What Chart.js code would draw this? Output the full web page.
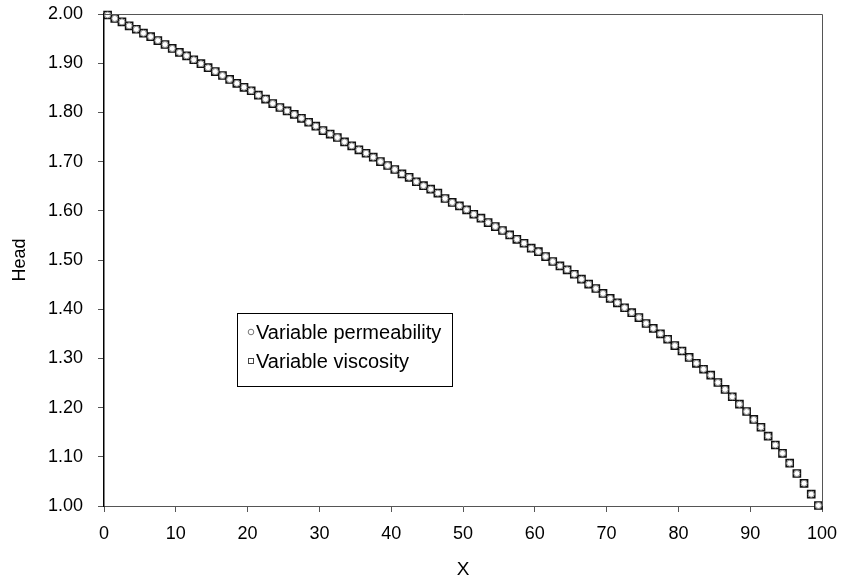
<!DOCTYPE html>
<html>
<head>
<meta charset="utf-8">
<script src="https://cdn.jsdelivr.net/npm/chart.js@4/dist/chart.umd.min.js"></script>
<style>
  body { margin: 0; background: #fff; }
  #wrap { width: 845px; height: 582px; }
</style>
</head>
<body>
<div id="wrap"><canvas id="headChart" width="845" height="582"></canvas></div>
<script>
// cell-centred x positions
var xValues = [
  0.5, 1.5, 2.5, 3.5, 4.5, 5.5, 6.5, 7.5, 8.5, 9.5,
  10.5, 11.5, 12.5, 13.5, 14.5, 15.5, 16.5, 17.5, 18.5, 19.5,
  20.5, 21.5, 22.5, 23.5, 24.5, 25.5, 26.5, 27.5, 28.5, 29.5,
  30.5, 31.5, 32.5, 33.5, 34.5, 35.5, 36.5, 37.5, 38.5, 39.5,
  40.5, 41.5, 42.5, 43.5, 44.5, 45.5, 46.5, 47.5, 48.5, 49.5,
  50.5, 51.5, 52.5, 53.5, 54.5, 55.5, 56.5, 57.5, 58.5, 59.5,
  60.5, 61.5, 62.5, 63.5, 64.5, 65.5, 66.5, 67.5, 68.5, 69.5,
  70.5, 71.5, 72.5, 73.5, 74.5, 75.5, 76.5, 77.5, 78.5, 79.5,
  80.5, 81.5, 82.5, 83.5, 84.5, 85.5, 86.5, 87.5, 88.5, 89.5,
  90.5, 91.5, 92.5, 93.5, 94.5, 95.5, 96.5, 97.5, 98.5, 99.5
];

var headPermeability = [
  1.998, 1.991, 1.984, 1.976, 1.969, 1.961, 1.954, 1.946, 1.938, 1.930,
  1.922, 1.915, 1.907, 1.899, 1.891, 1.883, 1.875, 1.867, 1.859, 1.851,
  1.844, 1.835, 1.827, 1.818, 1.810, 1.803, 1.796, 1.788, 1.780, 1.772,
  1.763, 1.756, 1.749, 1.740, 1.732, 1.724, 1.717, 1.709, 1.700, 1.692,
  1.684, 1.675, 1.668, 1.659, 1.651, 1.644, 1.636, 1.625, 1.617, 1.610,
  1.602, 1.593, 1.585, 1.576, 1.568, 1.560, 1.551, 1.542, 1.534, 1.524,
  1.517, 1.507, 1.497, 1.488, 1.480, 1.471, 1.461, 1.451, 1.442, 1.432,
  1.422, 1.413, 1.403, 1.393, 1.383, 1.371, 1.361, 1.350, 1.339, 1.326,
  1.315, 1.302, 1.290, 1.278, 1.266, 1.251, 1.237, 1.222, 1.207, 1.192,
  1.176, 1.160, 1.142, 1.124, 1.107, 1.087, 1.066, 1.046, 1.024, 1.001
];

var headViscosity = [
  1.998, 1.991, 1.984, 1.976, 1.969, 1.961, 1.954, 1.946, 1.938, 1.930,
  1.922, 1.915, 1.907, 1.899, 1.891, 1.883, 1.875, 1.867, 1.859, 1.851,
  1.844, 1.835, 1.827, 1.818, 1.810, 1.803, 1.796, 1.788, 1.780, 1.772,
  1.763, 1.756, 1.749, 1.740, 1.732, 1.724, 1.717, 1.709, 1.700, 1.692,
  1.684, 1.675, 1.668, 1.659, 1.651, 1.644, 1.636, 1.625, 1.617, 1.610,
  1.602, 1.593, 1.585, 1.576, 1.568, 1.560, 1.551, 1.542, 1.534, 1.524,
  1.517, 1.507, 1.497, 1.488, 1.480, 1.471, 1.461, 1.451, 1.442, 1.432,
  1.422, 1.413, 1.403, 1.393, 1.383, 1.371, 1.361, 1.350, 1.339, 1.326,
  1.315, 1.302, 1.290, 1.278, 1.266, 1.251, 1.237, 1.222, 1.207, 1.192,
  1.176, 1.160, 1.142, 1.124, 1.107, 1.087, 1.066, 1.046, 1.024, 1.001
];

const FONT_FAMILY = '"Liberation Sans", Arial, Helvetica, sans-serif';
const AXIS_GREY = '#555555';

function toPoints(values){
  return values.map((v, i) => ({ x: xValues[i], y: v }));
}

// grey frame round the plot (top + right sides)
const framePlugin = {
  id: 'frame',
  afterDatasetsDraw(chart){
    const a = chart.chartArea;
    const c = chart.ctx;
    c.save();
    c.strokeStyle = AXIS_GREY;
    c.lineWidth = 1;
    c.beginPath();
    c.moveTo(a.left, a.top + 0.5);
    c.lineTo(a.right + 0.5, a.top + 0.5);
    c.lineTo(a.right + 0.5, a.bottom);
    c.stroke();
    c.restore();
  }
};

// boxed legend sitting inside the plot
const boxLegendPlugin = {
  id: 'boxLegend',
  afterDraw(chart){
    const c = chart.ctx;
    const left = 237, top = 313, width = 215, height = 73;
    c.save();
    c.fillStyle = '#fff';
    c.fillRect(left, top, width, height);
    c.strokeStyle = '#000';
    c.lineWidth = 1;
    c.strokeRect(left + 0.5, top + 0.5, width, height);

    c.font = '20px ' + FONT_FAMILY;
    c.fillStyle = '#000';
    c.textBaseline = 'middle';
    c.textAlign = 'left';

    // circle item
    c.strokeStyle = '#777';
    c.beginPath();
    c.arc(251, 332, 2.8, 0, Math.PI * 2);
    c.stroke();
    c.fillText(chart.data.datasets[0].label, 256, 333);

    // square item
    c.strokeStyle = '#444';
    c.strokeRect(248.5, 358.5, 5, 5);
    c.fillText(chart.data.datasets[1].label, 256, 362);
    c.restore();
  }
};

new Chart(document.getElementById('headChart'), {
  type: 'scatter',
  data: {
    datasets: [
      {
        label: 'Variable permeability',
        data: toPoints(headPermeability),
        pointStyle: 'circle',
        pointRadius: 3,
        pointBackgroundColor: '#ffffff',
        pointBorderColor: '#8a8a8a',
        pointBorderWidth: 1,
        showLine: false,
        clip: false,
        order: 0
      },
      {
        label: 'Variable viscosity',
        data: toPoints(headViscosity),
        pointStyle: 'rect',
        pointRadius: 5,
        pointBackgroundColor: '#ffffff',
        pointBorderColor: '#111111',
        pointBorderWidth: 1.6,
        showLine: false,
        clip: false,
        order: 1
      }
    ]
  },
  options: {
    responsive: false,
    animation: false,
    layout: { padding: { top: 14, right: 23, left: 0, bottom: 0 } },
    plugins: {
      legend: { display: false },
      tooltip: { enabled: false }
    },
    scales: {
      x: {
        type: 'linear',
        min: 0,
        max: 100,
        afterFit(scale){
          scale.height = 76;
          scale.paddingLeft = 0;
          scale.paddingRight = 0;
        },
        ticks: {
          stepSize: 10,
          padding: 11,
          color: '#000',
          font: { family: FONT_FAMILY, size: 18 },
          maxRotation: 0
        },
        grid: {
          drawOnChartArea: false,
          drawTicks: true,
          tickLength: 6,
          color: AXIS_GREY
        },
        border: { display: true, color: AXIS_GREY, width: 1 },
        title: {
          display: true,
          text: 'X',
          color: '#000',
          font: { family: FONT_FAMILY, size: 19 },
          padding: { top: 0, bottom: 1 }
        }
      },
      y: {
        type: 'linear',
        min: 1,
        max: 2,
        afterFit(scale){
          scale.width = 104;
          scale.paddingTop = 0;
          scale.paddingBottom = 0;
        },
        ticks: {
          stepSize: 0.1,
          padding: 15,
          color: '#000',
          font: { family: FONT_FAMILY, size: 18 },
          callback: (v) => v.toFixed(2)
        },
        grid: {
          drawOnChartArea: false,
          drawTicks: true,
          tickLength: 6,
          color: AXIS_GREY
        },
        border: { display: true, color: '#000', width: 1.5 },
        title: {
          display: true,
          text: 'Head',
          color: '#000',
          font: { family: FONT_FAMILY, size: 18 },
          padding: { top: 9, bottom: 0 }
        }
      }
    }
  },
  plugins: [framePlugin, boxLegendPlugin]
});
</script>
</body>
</html>
